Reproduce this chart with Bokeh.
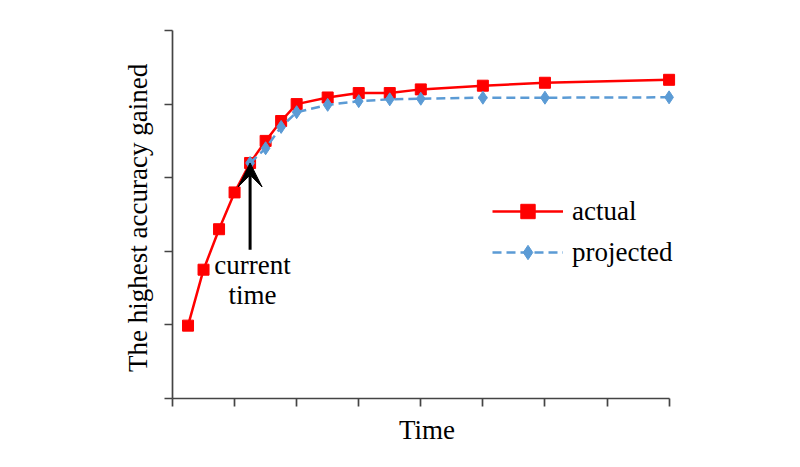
from bokeh.plotting import figure
from bokeh.models import (Range1d, FixedTicker, Arrow, VeeHead, Legend, LegendItem,
                          ColumnDataSource, CustomJSTickFormatter)
from bokeh.core.properties import value
from bokeh.embed import file_html
from bokeh.resources import INLINE

# data
time_actual = [0.25, 0.5, 0.75, 1.0, 1.25, 1.5, 1.75, 2.0, 2.5, 3.0, 3.5, 4.0, 5.0, 6.0, 8.0]
acc_actual = [0.99, 1.75, 2.30, 2.80, 3.20, 3.50, 3.77, 4.00, 4.09, 4.15, 4.15, 4.20, 4.25, 4.29, 4.33]
time_projected = [1.25, 1.5, 1.75, 2.0, 2.5, 3.0, 3.5, 4.0, 5.0, 6.0, 8.0]
acc_projected = [3.20, 3.40, 3.69, 3.89, 3.99, 4.04, 4.065, 4.073, 4.087, 4.087, 4.092]
x_ticks = [0, 1, 2, 3, 4, 5, 6, 7, 8]
y_ticks = [0, 1, 2, 3, 4, 5]
current_time = 1.25
current_acc = 3.2
arrow_tail_acc = 2.02
note_text = ["current", "time"]
note_x = [1.29, 1.29]
note_y = [1.81, 1.41]

FONT = "Liberation Serif"

p = figure(width=784, height=451, output_backend="svg", toolbar_location=None,
           x_range=Range1d(0, 8.2), y_range=Range1d(0, 5),
           min_border_left=172, min_border_right=103, min_border_top=30, min_border_bottom=53)
p.outline_line_color = None
p.xgrid.grid_line_color = None
p.ygrid.grid_line_color = None

for ax in (p.xaxis[0], p.yaxis[0]):
    ax.axis_line_color = "#444444"
    ax.axis_line_width = 1.7
    ax.major_tick_line_color = "#444444"
    ax.major_tick_line_width = 1.7
    ax.major_tick_in = 0
    ax.major_tick_out = 8
    ax.minor_tick_line_color = None
    ax.formatter = CustomJSTickFormatter(code="return ''")
    ax.major_label_text_font_size = "0px"
    ax.major_label_standoff = 0
    ax.axis_label_text_font = FONT
    ax.axis_label_text_font_size = "27px"
    ax.axis_label_text_font_style = "normal"
    ax.axis_label_text_color = "black"

p.xaxis.ticker = FixedTicker(ticks=x_ticks)
p.yaxis.ticker = FixedTicker(ticks=y_ticks)
p.xaxis.bounds = (x_ticks[0], x_ticks[-1])
p.xaxis.axis_label = "Time"
p.yaxis.axis_label = "The highest accuracy  gained"
p.xaxis.axis_label_standoff = 8
p.yaxis.axis_label_standoff = 12

src_a = ColumnDataSource(dict(t=time_actual, a=acc_actual))
src_p = ColumnDataSource(dict(t=time_projected, a=acc_projected))

RED = "#FF0000"
BLUE = "#5B9BD5"

la = p.line("t", "a", source=src_a, line_color=RED, line_width=2.5)
ma = p.scatter("t", "a", source=src_a, marker="square", size=11, fill_color=RED, line_color=RED)
lp = p.line("t", "a", source=src_p, line_color=BLUE, line_width=2.5, line_dash="9 5")
mp = p.scatter("t", "a", source=src_p, marker="diamond", size=13,
               fill_color=BLUE, line_color=BLUE)

p.add_layout(Arrow(end=VeeHead(size=24, fill_color="black", line_color="black"),
                   x_start=current_time, y_start=arrow_tail_acc,
                   x_end=current_time, y_end=current_acc,
                   line_color="black", line_width=3))

p.text(x=note_x, y=note_y, text=note_text, text_font=value(FONT), text_font_size="27px",
       text_align="center", text_baseline="middle", text_color="black")

legend = Legend(items=[LegendItem(label="actual", renderers=[la, ma]),
                       LegendItem(label="projected", renderers=[lp, mp])],
                location=(320, 128), glyph_width=71, glyph_height=36, spacing=5,
                label_standoff=9, padding=0, margin=0,
                label_text_font=FONT, label_text_font_size="27px", label_text_color="black",
                border_line_color=None, background_fill_alpha=0)
p.add_layout(legend)

open("out.html", "w").write(file_html(p, INLINE))
